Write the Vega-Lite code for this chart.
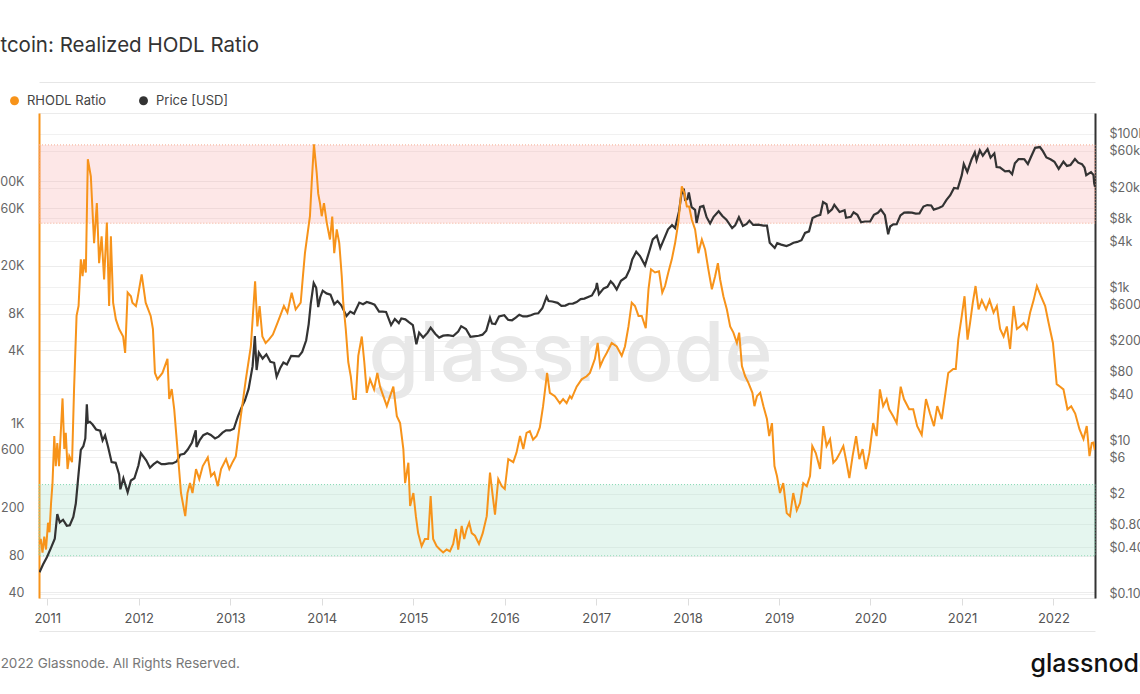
{
  "$schema": "https://vega.github.io/schema/vega-lite/v6.json",
  "width": 1056,
  "height": 485,
  "autosize": {"type": "none"},
  "padding": {"left": 39, "top": 113, "right": 45, "bottom": 96},
  "background": "white",
  "config": {"font": "Inter", "view": {"stroke": "#ebebeb"}},
  "title": {"text": "Bitcoin: Realized HODL Ratio", "anchor": "start", "frame": "group", "dx": -57, "offset": 16, "baseline": "middle", "fontSize": 20.5, "fontWeight": 400, "color": "#333333", "font": "Inter"},
  "datasets": {
    "bands": [
      {"band": "red", "lo": 45000, "hi": 200000, "start": "2010-11-29", "end": "2022-06-16"},
      {"band": "green", "lo": 80, "hi": 310, "start": "2010-11-29", "end": "2022-06-16"}
    ],
    "rhodl": [
      {"date": "2010-11-30", "rhodl": 100}, {"date": "2010-12-06", "rhodl": 110}, {"date": "2010-12-13", "rhodl": 85}, {"date": "2010-12-20", "rhodl": 115}, {"date": "2010-12-27", "rhodl": 90},
      {"date": "2011-01-04", "rhodl": 150}, {"date": "2011-01-10", "rhodl": 125}, {"date": "2011-01-16", "rhodl": 215}, {"date": "2011-01-22", "rhodl": 320}, {"date": "2011-01-29", "rhodl": 781},
      {"date": "2011-02-04", "rhodl": 441}, {"date": "2011-02-10", "rhodl": 684}, {"date": "2011-02-17", "rhodl": 441}, {"date": "2011-03-03", "rhodl": 1600}, {"date": "2011-03-10", "rhodl": 610},
      {"date": "2011-03-16", "rhodl": 830}, {"date": "2011-03-23", "rhodl": 417}, {"date": "2011-03-30", "rhodl": 533}, {"date": "2011-04-10", "rhodl": 475}, {"date": "2011-04-18", "rhodl": 1900},
      {"date": "2011-04-28", "rhodl": 7700}, {"date": "2011-05-06", "rhodl": 9300}, {"date": "2011-05-15", "rhodl": 22600}, {"date": "2011-05-22", "rhodl": 16400}, {"date": "2011-05-28", "rhodl": 22600},
      {"date": "2011-06-04", "rhodl": 17600}, {"date": "2011-06-12", "rhodl": 152000}, {"date": "2011-06-24", "rhodl": 110000}, {"date": "2011-07-07", "rhodl": 30700}, {"date": "2011-07-18", "rhodl": 66000},
      {"date": "2011-07-27", "rhodl": 21000}, {"date": "2011-08-06", "rhodl": 35000}, {"date": "2011-08-16", "rhodl": 15400}, {"date": "2011-08-27", "rhodl": 45500}, {"date": "2011-09-05", "rhodl": 9300},
      {"date": "2011-09-12", "rhodl": 35000}, {"date": "2011-09-21", "rhodl": 9900}, {"date": "2011-10-02", "rhodl": 7200}, {"date": "2011-10-15", "rhodl": 6000}, {"date": "2011-10-31", "rhodl": 5200},
      {"date": "2011-11-08", "rhodl": 3800}, {"date": "2011-11-18", "rhodl": 12000}, {"date": "2011-12-01", "rhodl": 11200}, {"date": "2011-12-07", "rhodl": 9900}, {"date": "2011-12-21", "rhodl": 9300},
      {"date": "2011-12-27", "rhodl": 10600}, {"date": "2012-01-13", "rhodl": 17000}, {"date": "2012-01-29", "rhodl": 9900}, {"date": "2012-02-18", "rhodl": 7700}, {"date": "2012-02-27", "rhodl": 6000},
      {"date": "2012-03-06", "rhodl": 2600}, {"date": "2012-03-16", "rhodl": 2300}, {"date": "2012-04-05", "rhodl": 2600}, {"date": "2012-04-25", "rhodl": 3400}, {"date": "2012-05-02", "rhodl": 1580},
      {"date": "2012-05-12", "rhodl": 1910}, {"date": "2012-05-22", "rhodl": 1300}, {"date": "2012-06-04", "rhodl": 610}, {"date": "2012-06-18", "rhodl": 264}, {"date": "2012-07-05", "rhodl": 170},
      {"date": "2012-07-14", "rhodl": 264}, {"date": "2012-07-24", "rhodl": 319}, {"date": "2012-08-03", "rhodl": 264}, {"date": "2012-08-17", "rhodl": 417}, {"date": "2012-08-30", "rhodl": 344},
      {"date": "2012-09-13", "rhodl": 441}, {"date": "2012-10-03", "rhodl": 520}, {"date": "2012-10-16", "rhodl": 365}, {"date": "2012-10-29", "rhodl": 390}, {"date": "2012-11-12", "rhodl": 301},
      {"date": "2012-11-25", "rhodl": 417}, {"date": "2012-12-15", "rhodl": 504}, {"date": "2012-12-28", "rhodl": 417}, {"date": "2013-01-10", "rhodl": 475}, {"date": "2013-01-23", "rhodl": 533},
      {"date": "2013-02-12", "rhodl": 1140}, {"date": "2013-03-04", "rhodl": 2300}, {"date": "2013-03-24", "rhodl": 4300}, {"date": "2013-04-10", "rhodl": 14900}, {"date": "2013-04-19", "rhodl": 6300},
      {"date": "2013-04-28", "rhodl": 9300}, {"date": "2013-05-09", "rhodl": 5200}, {"date": "2013-05-22", "rhodl": 4600}, {"date": "2013-06-04", "rhodl": 4900}, {"date": "2013-06-20", "rhodl": 5400},
      {"date": "2013-07-08", "rhodl": 6700}, {"date": "2013-07-21", "rhodl": 7900}, {"date": "2013-08-03", "rhodl": 9300}, {"date": "2013-08-17", "rhodl": 8200}, {"date": "2013-09-03", "rhodl": 12000},
      {"date": "2013-09-19", "rhodl": 8700}, {"date": "2013-10-09", "rhodl": 9900}, {"date": "2013-10-18", "rhodl": 16400}, {"date": "2013-10-26", "rhodl": 25400}, {"date": "2013-11-15", "rhodl": 51400},
      {"date": "2013-11-22", "rhodl": 97000}, {"date": "2013-12-01", "rhodl": 202000}, {"date": "2013-12-12", "rhodl": 117000}, {"date": "2013-12-18", "rhodl": 79000}, {"date": "2013-12-25", "rhodl": 66000},
      {"date": "2014-01-01", "rhodl": 51400}, {"date": "2014-01-10", "rhodl": 66000}, {"date": "2014-01-21", "rhodl": 45500}, {"date": "2014-02-03", "rhodl": 33000}, {"date": "2014-02-12", "rhodl": 51000},
      {"date": "2014-02-20", "rhodl": 25400}, {"date": "2014-03-02", "rhodl": 40000}, {"date": "2014-03-12", "rhodl": 31000}, {"date": "2014-03-22", "rhodl": 16400}, {"date": "2014-03-28", "rhodl": 9900},
      {"date": "2014-04-07", "rhodl": 6000}, {"date": "2014-04-17", "rhodl": 3200}, {"date": "2014-04-27", "rhodl": 2440}, {"date": "2014-05-07", "rhodl": 1580}, {"date": "2014-05-17", "rhodl": 1580},
      {"date": "2014-05-27", "rhodl": 3600}, {"date": "2014-06-10", "rhodl": 5200}, {"date": "2014-06-20", "rhodl": 3200}, {"date": "2014-06-30", "rhodl": 1780}, {"date": "2014-07-13", "rhodl": 2300},
      {"date": "2014-07-29", "rhodl": 1900}, {"date": "2014-08-11", "rhodl": 2600}, {"date": "2014-08-22", "rhodl": 2000}, {"date": "2014-09-04", "rhodl": 1670}, {"date": "2014-09-18", "rhodl": 1380},
      {"date": "2014-10-01", "rhodl": 1670}, {"date": "2014-10-14", "rhodl": 2000}, {"date": "2014-10-28", "rhodl": 1140}, {"date": "2014-11-10", "rhodl": 1000}, {"date": "2014-11-23", "rhodl": 610},
      {"date": "2014-11-30", "rhodl": 319}, {"date": "2014-12-13", "rhodl": 470}, {"date": "2014-12-20", "rhodl": 206}, {"date": "2015-01-02", "rhodl": 264}, {"date": "2015-01-12", "rhodl": 170},
      {"date": "2015-01-21", "rhodl": 123}, {"date": "2015-02-04", "rhodl": 96}, {"date": "2015-02-17", "rhodl": 110}, {"date": "2015-03-02", "rhodl": 110}, {"date": "2015-03-12", "rhodl": 249},
      {"date": "2015-03-22", "rhodl": 110}, {"date": "2015-04-05", "rhodl": 96}, {"date": "2015-04-18", "rhodl": 90}, {"date": "2015-05-01", "rhodl": 85}, {"date": "2015-05-15", "rhodl": 90},
      {"date": "2015-05-28", "rhodl": 87}, {"date": "2015-06-10", "rhodl": 100}, {"date": "2015-06-21", "rhodl": 133}, {"date": "2015-06-30", "rhodl": 90}, {"date": "2015-07-14", "rhodl": 141},
      {"date": "2015-07-24", "rhodl": 110}, {"date": "2015-08-03", "rhodl": 133}, {"date": "2015-08-13", "rhodl": 150}, {"date": "2015-08-23", "rhodl": 123}, {"date": "2015-09-05", "rhodl": 117},
      {"date": "2015-09-21", "rhodl": 100}, {"date": "2015-10-06", "rhodl": 123}, {"date": "2015-10-22", "rhodl": 170}, {"date": "2015-11-04", "rhodl": 390}, {"date": "2015-11-15", "rhodl": 249},
      {"date": "2015-11-24", "rhodl": 175}, {"date": "2015-12-07", "rhodl": 344}, {"date": "2015-12-21", "rhodl": 301}, {"date": "2016-01-02", "rhodl": 285}, {"date": "2016-01-16", "rhodl": 504},
      {"date": "2016-02-05", "rhodl": 475}, {"date": "2016-02-18", "rhodl": 570}, {"date": "2016-03-03", "rhodl": 781}, {"date": "2016-03-16", "rhodl": 610}, {"date": "2016-03-29", "rhodl": 830},
      {"date": "2016-04-11", "rhodl": 858}, {"date": "2016-04-24", "rhodl": 730}, {"date": "2016-05-08", "rhodl": 781}, {"date": "2016-05-21", "rhodl": 920}, {"date": "2016-06-03", "rhodl": 1380},
      {"date": "2016-06-19", "rhodl": 2600}, {"date": "2016-06-30", "rhodl": 1780}, {"date": "2016-07-20", "rhodl": 1670}, {"date": "2016-08-09", "rhodl": 1460}, {"date": "2016-08-22", "rhodl": 1580},
      {"date": "2016-09-05", "rhodl": 1460}, {"date": "2016-09-18", "rhodl": 1670}, {"date": "2016-09-25", "rhodl": 1600}, {"date": "2016-10-15", "rhodl": 2000}, {"date": "2016-11-04", "rhodl": 2300},
      {"date": "2016-11-24", "rhodl": 2440}, {"date": "2016-12-07", "rhodl": 2600}, {"date": "2016-12-27", "rhodl": 3400}, {"date": "2017-01-07", "rhodl": 4600}, {"date": "2017-01-17", "rhodl": 2960},
      {"date": "2017-01-30", "rhodl": 3400}, {"date": "2017-02-12", "rhodl": 3800}, {"date": "2017-03-04", "rhodl": 4600}, {"date": "2017-03-24", "rhodl": 4300}, {"date": "2017-04-13", "rhodl": 3600},
      {"date": "2017-04-26", "rhodl": 4300}, {"date": "2017-05-10", "rhodl": 6300}, {"date": "2017-05-23", "rhodl": 9900}, {"date": "2017-06-05", "rhodl": 9300}, {"date": "2017-06-19", "rhodl": 7700},
      {"date": "2017-07-02", "rhodl": 7700}, {"date": "2017-07-18", "rhodl": 6100}, {"date": "2017-07-29", "rhodl": 12800}, {"date": "2017-08-08", "rhodl": 18700}, {"date": "2017-08-24", "rhodl": 17600},
      {"date": "2017-09-09", "rhodl": 18000}, {"date": "2017-09-22", "rhodl": 12000}, {"date": "2017-10-03", "rhodl": 13600}, {"date": "2017-10-16", "rhodl": 17600}, {"date": "2017-10-30", "rhodl": 22600},
      {"date": "2017-11-12", "rhodl": 30700}, {"date": "2017-11-25", "rhodl": 45500}, {"date": "2017-12-09", "rhodl": 91000}, {"date": "2017-12-19", "rhodl": 80000}, {"date": "2017-12-29", "rhodl": 62000},
      {"date": "2018-01-07", "rhodl": 62000}, {"date": "2018-01-18", "rhodl": 48000}, {"date": "2018-01-31", "rhodl": 40000}, {"date": "2018-02-13", "rhodl": 25400}, {"date": "2018-02-27", "rhodl": 33000},
      {"date": "2018-03-12", "rhodl": 27300}, {"date": "2018-03-25", "rhodl": 18700}, {"date": "2018-04-08", "rhodl": 12800}, {"date": "2018-04-21", "rhodl": 16400}, {"date": "2018-05-02", "rhodl": 21000},
      {"date": "2018-05-11", "rhodl": 15400}, {"date": "2018-05-24", "rhodl": 11200}, {"date": "2018-06-07", "rhodl": 8700}, {"date": "2018-06-20", "rhodl": 6300}, {"date": "2018-07-03", "rhodl": 5600},
      {"date": "2018-07-17", "rhodl": 4600}, {"date": "2018-07-26", "rhodl": 5600}, {"date": "2018-08-06", "rhodl": 2960}, {"date": "2018-08-19", "rhodl": 2440}, {"date": "2018-09-01", "rhodl": 2150},
      {"date": "2018-09-17", "rhodl": 1780}, {"date": "2018-09-25", "rhodl": 1380}, {"date": "2018-10-05", "rhodl": 1670}, {"date": "2018-10-18", "rhodl": 1780}, {"date": "2018-10-31", "rhodl": 1380},
      {"date": "2018-11-14", "rhodl": 1080}, {"date": "2018-11-23", "rhodl": 781}, {"date": "2018-12-04", "rhodl": 1000}, {"date": "2018-12-14", "rhodl": 441}, {"date": "2018-12-24", "rhodl": 365},
      {"date": "2019-01-05", "rhodl": 264}, {"date": "2019-01-18", "rhodl": 319}, {"date": "2019-02-01", "rhodl": 180}, {"date": "2019-02-14", "rhodl": 170}, {"date": "2019-02-27", "rhodl": 264},
      {"date": "2019-03-13", "rhodl": 190}, {"date": "2019-03-26", "rhodl": 218}, {"date": "2019-04-08", "rhodl": 319}, {"date": "2019-04-22", "rhodl": 301}, {"date": "2019-05-05", "rhodl": 365},
      {"date": "2019-05-14", "rhodl": 646}, {"date": "2019-05-28", "rhodl": 565}, {"date": "2019-06-14", "rhodl": 417}, {"date": "2019-06-27", "rhodl": 944}, {"date": "2019-07-10", "rhodl": 646},
      {"date": "2019-07-24", "rhodl": 738}, {"date": "2019-08-06", "rhodl": 470}, {"date": "2019-08-19", "rhodl": 504}, {"date": "2019-09-02", "rhodl": 570}, {"date": "2019-09-15", "rhodl": 646},
      {"date": "2019-09-28", "rhodl": 470}, {"date": "2019-10-09", "rhodl": 351}, {"date": "2019-10-22", "rhodl": 533}, {"date": "2019-11-05", "rhodl": 781}, {"date": "2019-11-18", "rhodl": 504},
      {"date": "2019-12-01", "rhodl": 610}, {"date": "2019-12-14", "rhodl": 417}, {"date": "2019-12-28", "rhodl": 570}, {"date": "2020-01-12", "rhodl": 1000}, {"date": "2020-01-26", "rhodl": 781},
      {"date": "2020-02-08", "rhodl": 1900}, {"date": "2020-02-21", "rhodl": 1380}, {"date": "2020-03-06", "rhodl": 1580}, {"date": "2020-03-16", "rhodl": 1300}, {"date": "2020-04-01", "rhodl": 1140},
      {"date": "2020-04-15", "rhodl": 1000}, {"date": "2020-05-01", "rhodl": 2000}, {"date": "2020-05-14", "rhodl": 1580}, {"date": "2020-06-04", "rhodl": 1300}, {"date": "2020-06-20", "rhodl": 1300},
      {"date": "2020-07-06", "rhodl": 944}, {"date": "2020-07-24", "rhodl": 800}, {"date": "2020-08-10", "rhodl": 1580}, {"date": "2020-08-26", "rhodl": 1200}, {"date": "2020-09-11", "rhodl": 944},
      {"date": "2020-09-24", "rhodl": 1380}, {"date": "2020-10-12", "rhodl": 1080}, {"date": "2020-10-25", "rhodl": 1670}, {"date": "2020-11-07", "rhodl": 2600}, {"date": "2020-11-27", "rhodl": 2800},
      {"date": "2020-12-07", "rhodl": 2800}, {"date": "2020-12-17", "rhodl": 4900}, {"date": "2020-12-31", "rhodl": 7700}, {"date": "2021-01-11", "rhodl": 11200}, {"date": "2021-01-23", "rhodl": 4900},
      {"date": "2021-02-02", "rhodl": 6700}, {"date": "2021-02-13", "rhodl": 9900}, {"date": "2021-02-24", "rhodl": 13600}, {"date": "2021-03-08", "rhodl": 8700}, {"date": "2021-03-21", "rhodl": 10400},
      {"date": "2021-04-07", "rhodl": 8700}, {"date": "2021-04-21", "rhodl": 10400}, {"date": "2021-05-07", "rhodl": 8200}, {"date": "2021-05-20", "rhodl": 9300}, {"date": "2021-06-02", "rhodl": 6000},
      {"date": "2021-06-16", "rhodl": 5200}, {"date": "2021-06-29", "rhodl": 6300}, {"date": "2021-07-12", "rhodl": 4100}, {"date": "2021-07-26", "rhodl": 9300}, {"date": "2021-08-08", "rhodl": 6000},
      {"date": "2021-08-21", "rhodl": 6300}, {"date": "2021-09-04", "rhodl": 6700}, {"date": "2021-09-17", "rhodl": 6000}, {"date": "2021-09-30", "rhodl": 8200}, {"date": "2021-10-14", "rhodl": 10400},
      {"date": "2021-10-27", "rhodl": 13600}, {"date": "2021-11-12", "rhodl": 11200}, {"date": "2021-11-29", "rhodl": 9300}, {"date": "2021-12-13", "rhodl": 6700}, {"date": "2021-12-30", "rhodl": 4600},
      {"date": "2022-01-14", "rhodl": 2100}, {"date": "2022-01-28", "rhodl": 2000}, {"date": "2022-02-10", "rhodl": 1900}, {"date": "2022-02-26", "rhodl": 1300}, {"date": "2022-03-13", "rhodl": 1380},
      {"date": "2022-03-29", "rhodl": 1200}, {"date": "2022-04-15", "rhodl": 891}, {"date": "2022-05-01", "rhodl": 738}, {"date": "2022-05-14", "rhodl": 944}, {"date": "2022-05-25", "rhodl": 533},
      {"date": "2022-06-03", "rhodl": 684}, {"date": "2022-06-10", "rhodl": 690}, {"date": "2022-06-15", "rhodl": 600}
    ],
    "price": [
      {"date": "2010-12-01", "price": 0.19}, {"date": "2010-12-15", "price": 0.24}, {"date": "2010-12-31", "price": 0.3}, {"date": "2011-01-15", "price": 0.39}, {"date": "2011-01-31", "price": 0.52},
      {"date": "2011-02-10", "price": 1.09}, {"date": "2011-02-20", "price": 0.85}, {"date": "2011-03-05", "price": 0.92}, {"date": "2011-03-20", "price": 0.77}, {"date": "2011-04-01", "price": 0.78},
      {"date": "2011-04-15", "price": 1.0}, {"date": "2011-04-25", "price": 1.5}, {"date": "2011-05-05", "price": 3.4}, {"date": "2011-05-15", "price": 7.5}, {"date": "2011-05-25", "price": 8.4},
      {"date": "2011-06-02", "price": 10.6}, {"date": "2011-06-08", "price": 29.6}, {"date": "2011-06-12", "price": 17}, {"date": "2011-06-20", "price": 17.5}, {"date": "2011-07-01", "price": 16.1},
      {"date": "2011-07-15", "price": 13.9}, {"date": "2011-07-31", "price": 13.4}, {"date": "2011-08-10", "price": 10}, {"date": "2011-08-20", "price": 11.6}, {"date": "2011-09-01", "price": 8.2},
      {"date": "2011-09-15", "price": 5.2}, {"date": "2011-10-01", "price": 5.1}, {"date": "2011-10-15", "price": 3.6}, {"date": "2011-10-20", "price": 2.3}, {"date": "2011-11-01", "price": 3.2},
      {"date": "2011-11-18", "price": 2.1}, {"date": "2011-12-01", "price": 3.0}, {"date": "2011-12-15", "price": 3.2}, {"date": "2011-12-31", "price": 4.7}, {"date": "2012-01-10", "price": 6.8},
      {"date": "2012-01-31", "price": 5.5}, {"date": "2012-02-15", "price": 4.4}, {"date": "2012-03-01", "price": 4.9}, {"date": "2012-03-15", "price": 5.3}, {"date": "2012-04-01", "price": 4.9},
      {"date": "2012-04-15", "price": 4.9}, {"date": "2012-05-01", "price": 5.0}, {"date": "2012-05-15", "price": 5.0}, {"date": "2012-06-01", "price": 5.3}, {"date": "2012-06-15", "price": 6.5},
      {"date": "2012-07-01", "price": 6.7}, {"date": "2012-07-15", "price": 7.6}, {"date": "2012-08-01", "price": 9.4}, {"date": "2012-08-16", "price": 13.5}, {"date": "2012-08-19", "price": 8.2},
      {"date": "2012-09-01", "price": 10.1}, {"date": "2012-09-15", "price": 11.7}, {"date": "2012-10-01", "price": 12.4}, {"date": "2012-10-15", "price": 11.8}, {"date": "2012-11-01", "price": 10.6},
      {"date": "2012-11-15", "price": 11.2}, {"date": "2012-12-01", "price": 12.6}, {"date": "2012-12-15", "price": 13.5}, {"date": "2012-12-31", "price": 13.5}, {"date": "2013-01-15", "price": 14.2},
      {"date": "2013-01-31", "price": 20.4}, {"date": "2013-02-15", "price": 27}, {"date": "2013-02-28", "price": 33}, {"date": "2013-03-15", "price": 47}, {"date": "2013-03-31", "price": 93},
      {"date": "2013-04-09", "price": 230}, {"date": "2013-04-16", "price": 83}, {"date": "2013-04-25", "price": 140}, {"date": "2013-05-10", "price": 117}, {"date": "2013-05-25", "price": 133},
      {"date": "2013-06-10", "price": 106}, {"date": "2013-06-25", "price": 103}, {"date": "2013-07-05", "price": 68}, {"date": "2013-07-20", "price": 89}, {"date": "2013-08-01", "price": 104},
      {"date": "2013-08-15", "price": 98}, {"date": "2013-09-01", "price": 127}, {"date": "2013-09-15", "price": 126}, {"date": "2013-10-01", "price": 125}, {"date": "2013-10-15", "price": 143},
      {"date": "2013-10-31", "price": 203}, {"date": "2013-11-10", "price": 330}, {"date": "2013-11-18", "price": 600}, {"date": "2013-11-30", "price": 1130}, {"date": "2013-12-10", "price": 980},
      {"date": "2013-12-18", "price": 550}, {"date": "2013-12-26", "price": 740}, {"date": "2014-01-05", "price": 900}, {"date": "2014-01-20", "price": 830}, {"date": "2014-02-05", "price": 800},
      {"date": "2014-02-20", "price": 600}, {"date": "2014-03-05", "price": 660}, {"date": "2014-03-20", "price": 580}, {"date": "2014-04-10", "price": 420}, {"date": "2014-04-25", "price": 480},
      {"date": "2014-05-10", "price": 450}, {"date": "2014-05-31", "price": 630}, {"date": "2014-06-15", "price": 600}, {"date": "2014-06-30", "price": 640}, {"date": "2014-07-15", "price": 620},
      {"date": "2014-07-31", "price": 590}, {"date": "2014-08-18", "price": 480}, {"date": "2014-09-01", "price": 480}, {"date": "2014-09-15", "price": 475}, {"date": "2014-10-05", "price": 320},
      {"date": "2014-10-20", "price": 385}, {"date": "2014-11-05", "price": 340}, {"date": "2014-11-15", "price": 390}, {"date": "2014-12-01", "price": 380}, {"date": "2014-12-15", "price": 350},
      {"date": "2014-12-31", "price": 320}, {"date": "2015-01-14", "price": 180}, {"date": "2015-01-25", "price": 255}, {"date": "2015-02-10", "price": 220}, {"date": "2015-02-28", "price": 255},
      {"date": "2015-03-12", "price": 295}, {"date": "2015-03-31", "price": 245}, {"date": "2015-04-15", "price": 220}, {"date": "2015-05-01", "price": 233}, {"date": "2015-05-20", "price": 237},
      {"date": "2015-06-10", "price": 230}, {"date": "2015-06-30", "price": 263}, {"date": "2015-07-12", "price": 310}, {"date": "2015-07-31", "price": 285}, {"date": "2015-08-18", "price": 225},
      {"date": "2015-09-01", "price": 228}, {"date": "2015-09-20", "price": 232}, {"date": "2015-10-05", "price": 240}, {"date": "2015-10-20", "price": 270}, {"date": "2015-11-04", "price": 400},
      {"date": "2015-11-12", "price": 335}, {"date": "2015-11-25", "price": 330}, {"date": "2015-12-10", "price": 415}, {"date": "2015-12-31", "price": 430}, {"date": "2016-01-15", "price": 375},
      {"date": "2016-01-31", "price": 370}, {"date": "2016-02-15", "price": 400}, {"date": "2016-02-29", "price": 437}, {"date": "2016-03-15", "price": 415}, {"date": "2016-03-31", "price": 416},
      {"date": "2016-04-15", "price": 430}, {"date": "2016-04-30", "price": 450}, {"date": "2016-05-15", "price": 457}, {"date": "2016-05-31", "price": 530}, {"date": "2016-06-17", "price": 750},
      {"date": "2016-06-25", "price": 660}, {"date": "2016-07-10", "price": 650}, {"date": "2016-07-31", "price": 624}, {"date": "2016-08-15", "price": 570}, {"date": "2016-08-31", "price": 575},
      {"date": "2016-09-15", "price": 608}, {"date": "2016-09-30", "price": 610}, {"date": "2016-10-15", "price": 640}, {"date": "2016-10-31", "price": 700}, {"date": "2016-11-15", "price": 710},
      {"date": "2016-11-30", "price": 745}, {"date": "2016-12-15", "price": 780}, {"date": "2016-12-31", "price": 965}, {"date": "2017-01-04", "price": 1135}, {"date": "2017-01-12", "price": 810},
      {"date": "2017-01-31", "price": 965}, {"date": "2017-02-15", "price": 1010}, {"date": "2017-02-28", "price": 1190}, {"date": "2017-03-10", "price": 1100}, {"date": "2017-03-24", "price": 930},
      {"date": "2017-04-10", "price": 1210}, {"date": "2017-04-30", "price": 1350}, {"date": "2017-05-15", "price": 1720}, {"date": "2017-05-25", "price": 2300}, {"date": "2017-06-10", "price": 2900},
      {"date": "2017-06-25", "price": 2550}, {"date": "2017-07-15", "price": 1930}, {"date": "2017-07-31", "price": 2860}, {"date": "2017-08-15", "price": 4200}, {"date": "2017-08-31", "price": 4700},
      {"date": "2017-09-14", "price": 3250}, {"date": "2017-09-30", "price": 4340}, {"date": "2017-10-15", "price": 5700}, {"date": "2017-10-31", "price": 6450}, {"date": "2017-11-12", "price": 5900},
      {"date": "2017-11-28", "price": 9800}, {"date": "2017-12-07", "price": 16000}, {"date": "2017-12-17", "price": 19300}, {"date": "2017-12-22", "price": 13800}, {"date": "2017-12-31", "price": 14100},
      {"date": "2018-01-06", "price": 17200}, {"date": "2018-01-17", "price": 11100}, {"date": "2018-01-31", "price": 10200}, {"date": "2018-02-06", "price": 6900}, {"date": "2018-02-20", "price": 11200},
      {"date": "2018-03-05", "price": 11500}, {"date": "2018-03-18", "price": 8200}, {"date": "2018-04-01", "price": 6800}, {"date": "2018-04-15", "price": 8300}, {"date": "2018-05-05", "price": 9800},
      {"date": "2018-05-20", "price": 8500}, {"date": "2018-06-05", "price": 7600}, {"date": "2018-06-28", "price": 5900}, {"date": "2018-07-10", "price": 6400}, {"date": "2018-07-25", "price": 8200},
      {"date": "2018-08-10", "price": 6300}, {"date": "2018-08-25", "price": 6700}, {"date": "2018-09-05", "price": 7400}, {"date": "2018-09-20", "price": 6500}, {"date": "2018-10-10", "price": 6550},
      {"date": "2018-10-31", "price": 6350}, {"date": "2018-11-14", "price": 6350}, {"date": "2018-11-25", "price": 3800}, {"date": "2018-12-15", "price": 3250}, {"date": "2018-12-25", "price": 3750},
      {"date": "2019-01-10", "price": 3600}, {"date": "2019-01-31", "price": 3450}, {"date": "2019-02-15", "price": 3600}, {"date": "2019-02-28", "price": 3800}, {"date": "2019-03-15", "price": 3900},
      {"date": "2019-04-01", "price": 4100}, {"date": "2019-04-15", "price": 5100}, {"date": "2019-05-01", "price": 5350}, {"date": "2019-05-15", "price": 8000}, {"date": "2019-05-31", "price": 8500},
      {"date": "2019-06-15", "price": 8800}, {"date": "2019-06-26", "price": 12900}, {"date": "2019-07-10", "price": 12100}, {"date": "2019-07-17", "price": 9400}, {"date": "2019-08-01", "price": 10400},
      {"date": "2019-08-10", "price": 11900}, {"date": "2019-08-31", "price": 9600}, {"date": "2019-09-20", "price": 10100}, {"date": "2019-09-26", "price": 8050}, {"date": "2019-10-15", "price": 8300},
      {"date": "2019-10-26", "price": 9500}, {"date": "2019-11-10", "price": 8800}, {"date": "2019-11-25", "price": 7050}, {"date": "2019-12-10", "price": 7200}, {"date": "2019-12-31", "price": 7200},
      {"date": "2020-01-15", "price": 8800}, {"date": "2020-01-31", "price": 9350}, {"date": "2020-02-12", "price": 10300}, {"date": "2020-02-28", "price": 8700}, {"date": "2020-03-12", "price": 4900},
      {"date": "2020-03-20", "price": 6200}, {"date": "2020-04-01", "price": 6600}, {"date": "2020-04-15", "price": 6650}, {"date": "2020-04-30", "price": 8650}, {"date": "2020-05-15", "price": 9400},
      {"date": "2020-05-31", "price": 9450}, {"date": "2020-06-15", "price": 9400}, {"date": "2020-06-30", "price": 9150}, {"date": "2020-07-15", "price": 9200}, {"date": "2020-07-31", "price": 11300},
      {"date": "2020-08-15", "price": 11800}, {"date": "2020-08-31", "price": 11650}, {"date": "2020-09-10", "price": 10300}, {"date": "2020-09-30", "price": 10800}, {"date": "2020-10-15", "price": 11400},
      {"date": "2020-10-31", "price": 13800}, {"date": "2020-11-15", "price": 15900}, {"date": "2020-11-30", "price": 19700}, {"date": "2020-12-15", "price": 19400}, {"date": "2020-12-31", "price": 29000},
      {"date": "2021-01-08", "price": 40600}, {"date": "2021-01-22", "price": 32000}, {"date": "2021-02-08", "price": 46500}, {"date": "2021-02-21", "price": 57500}, {"date": "2021-02-28", "price": 45200},
      {"date": "2021-03-13", "price": 61200}, {"date": "2021-03-25", "price": 52000}, {"date": "2021-04-13", "price": 63500}, {"date": "2021-04-25", "price": 49000}, {"date": "2021-05-10", "price": 55800},
      {"date": "2021-05-19", "price": 37000}, {"date": "2021-06-01", "price": 36700}, {"date": "2021-06-22", "price": 32500}, {"date": "2021-07-08", "price": 33000}, {"date": "2021-07-20", "price": 29800},
      {"date": "2021-07-31", "price": 41500}, {"date": "2021-08-15", "price": 47000}, {"date": "2021-08-31", "price": 47100}, {"date": "2021-09-07", "price": 46800}, {"date": "2021-09-21", "price": 40500},
      {"date": "2021-10-05", "price": 51500}, {"date": "2021-10-20", "price": 66000}, {"date": "2021-11-08", "price": 67500}, {"date": "2021-11-20", "price": 59700}, {"date": "2021-12-04", "price": 49400},
      {"date": "2021-12-20", "price": 46700}, {"date": "2022-01-05", "price": 43400}, {"date": "2022-01-22", "price": 35000}, {"date": "2022-02-10", "price": 43500}, {"date": "2022-02-24", "price": 38300},
      {"date": "2022-03-10", "price": 39400}, {"date": "2022-03-28", "price": 47100}, {"date": "2022-04-10", "price": 42200}, {"date": "2022-04-25", "price": 40400}, {"date": "2022-05-05", "price": 36500},
      {"date": "2022-05-12", "price": 29000}, {"date": "2022-05-31", "price": 31800}, {"date": "2022-06-10", "price": 29100}, {"date": "2022-06-13", "price": 22500}, {"date": "2022-06-16", "price": 20400}
    ]
  },
  "resolve": {"scale": {"y": "independent"}, "axis": {"x": "independent"}},
  "layer": [
    {
      "data": {"name": "bands"},
      "mark": {"type": "rect", "fillOpacity": 0.25, "strokeDash": [1, 2], "strokeWidth": 1},
      "encoding": {
        "x": {"field": "start", "type": "temporal", "scale": {"type": "utc", "domain": [{"year": 2010, "month": 11, "date": 29, "utc": true}, {"year": 2022, "month": 6, "date": 16, "utc": true}]}, "axis": {"orient": "bottom", "offset": 33, "domain": true, "domainColor": "#e6e6e6", "labels": false, "ticks": false, "grid": false, "title": null}},
        "x2": {"field": "end"},
        "y": {"field": "hi", "type": "quantitative", "scale": {"type": "log", "domain": [35.76, 367000], "nice": false}, "axis": null},
        "y2": {"field": "lo"},
        "fill": {"field": "band", "type": "nominal", "scale": {"domain": ["red", "green"], "range": ["#f7a1a1", "#96dcbe"]}, "legend": null},
        "stroke": {"field": "band", "type": "nominal", "scale": {"domain": ["red", "green"], "range": ["#f5ad92", "#86d8b2"]}, "legend": null}
      }
    },
    {
      "data": {"name": "price"},
      "mark": {"type": "line", "strokeWidth": 2.2, "clip": true},
      "encoding": {
        "x": {"field": "date", "type": "temporal", "scale": {"type": "utc", "domain": [{"year": 2010, "month": 11, "date": 29, "utc": true}, {"year": 2022, "month": 6, "date": 16, "utc": true}]}, "axis": {"orient": "top", "offset": 31, "domain": true, "domainColor": "#e6e6e6", "labels": false, "ticks": false, "grid": false, "title": null}},
        "y": {"field": "price", "type": "quantitative", "scale": {"type": "log", "domain": [0.0876, 187900], "nice": false},
          "axis": {"orient": "right", "values": [0.1, 0.4, 0.8, 2, 6, 10, 40, 80, 200, 600, 1000, 4000, 8000, 20000, 60000, 100000],
            "labelExpr": "datum.value >= 1000 ? '$' + format(datum.value / 1000, 'd') + 'k' : (datum.value >= 1 ? '$' + format(datum.value, 'd') : '$' + format(datum.value, '.2f'))",
            "ticks": false, "domain": true, "domainColor": "#333333", "domainWidth": 2, "labelPadding": 14, "labelFontSize": 12.5, "labelColor": "#666666", "labelOverlap": false,
            "grid": true, "gridColor": "#f1f1f1",
            "title": "glassnode", "titleAngle": 0, "titleX": -65, "titleY": 550, "titleAlign": "left", "titleBaseline": "middle", "titleFontSize": 25, "titleFontWeight": 500, "titleColor": "#111111"}},
        "color": {"datum": "Price [USD]", "type": "nominal", "scale": {"domain": ["RHODL Ratio", "Price [USD]"], "range": ["#f7931a", "#333333"]},
          "legend": {"orient": "none", "legendX": -31, "legendY": -19, "direction": "horizontal", "title": null, "symbolType": "circle", "symbolSize": 80, "symbolStrokeWidth": 0, "labelFontSize": 13, "labelColor": "#444444", "columnPadding": 30, "labelOffset": 6, "padding": 0,
            "encode": {"symbols": {"update": {"fill": {"scale": "color", "field": "value"}, "fillOpacity": {"value": 1}}}}}}
      }
    },
    {
      "data": {"name": "rhodl"},
      "mark": {"type": "line", "strokeWidth": 2, "clip": true},
      "encoding": {
        "x": {"field": "date", "type": "temporal", "scale": {"type": "utc", "domain": [{"year": 2010, "month": 11, "date": 29, "utc": true}, {"year": 2022, "month": 6, "date": 16, "utc": true}]},
          "axis": {"orient": "bottom", "values": [{"year": 2011, "month": 1, "date": 1, "utc": true}, {"year": 2012, "month": 1, "date": 1, "utc": true}, {"year": 2013, "month": 1, "date": 1, "utc": true}, {"year": 2014, "month": 1, "date": 1, "utc": true}, {"year": 2015, "month": 1, "date": 1, "utc": true}, {"year": 2016, "month": 1, "date": 1, "utc": true}, {"year": 2017, "month": 1, "date": 1, "utc": true}, {"year": 2018, "month": 1, "date": 1, "utc": true}, {"year": 2019, "month": 1, "date": 1, "utc": true}, {"year": 2020, "month": 1, "date": 1, "utc": true}, {"year": 2021, "month": 1, "date": 1, "utc": true}, {"year": 2022, "month": 1, "date": 1, "utc": true}],
            "format": "%Y", "formatType": "utc", "labelFontSize": 13, "labelColor": "#555555", "labelPadding": 7, "tickSize": 7, "tickColor": "#dddddd", "domainColor": "#e6e6e6", "grid": false, "labelFlush": false,
            "title": "© 2022 Glassnode. All Rights Reserved.", "titleX": -55, "titleY": 65, "titleAlign": "left", "titleBaseline": "middle", "titleFontSize": 13.5, "titleFontWeight": 400, "titleColor": "#777777"}},
        "y": {"field": "rhodl", "type": "quantitative", "scale": {"type": "log", "domain": [35.76, 367000], "nice": false},
          "axis": {"orient": "left", "values": [40, 80, 200, 600, 1000, 4000, 8000, 20000, 60000, 100000],
            "labelExpr": "datum.value >= 1000 ? format(datum.value / 1000, 'd') + 'K' : format(datum.value, 'd')",
            "ticks": false, "domain": true, "domainColor": "#f7931a", "domainWidth": 2, "labelPadding": 15, "labelFontSize": 12.5, "labelColor": "#666666", "labelOverlap": false,
            "grid": true, "gridColor": "#ececec",
            "title": "glassnode", "titleAngle": 0, "titleX": 531, "titleY": 242, "titleAlign": "center", "titleBaseline": "middle", "titleFontSize": 82, "titleFontWeight": 500, "titleColor": "#e8e8e8"}},
        "color": {"datum": "RHODL Ratio", "type": "nominal"}
      }
    }
  ]
}
